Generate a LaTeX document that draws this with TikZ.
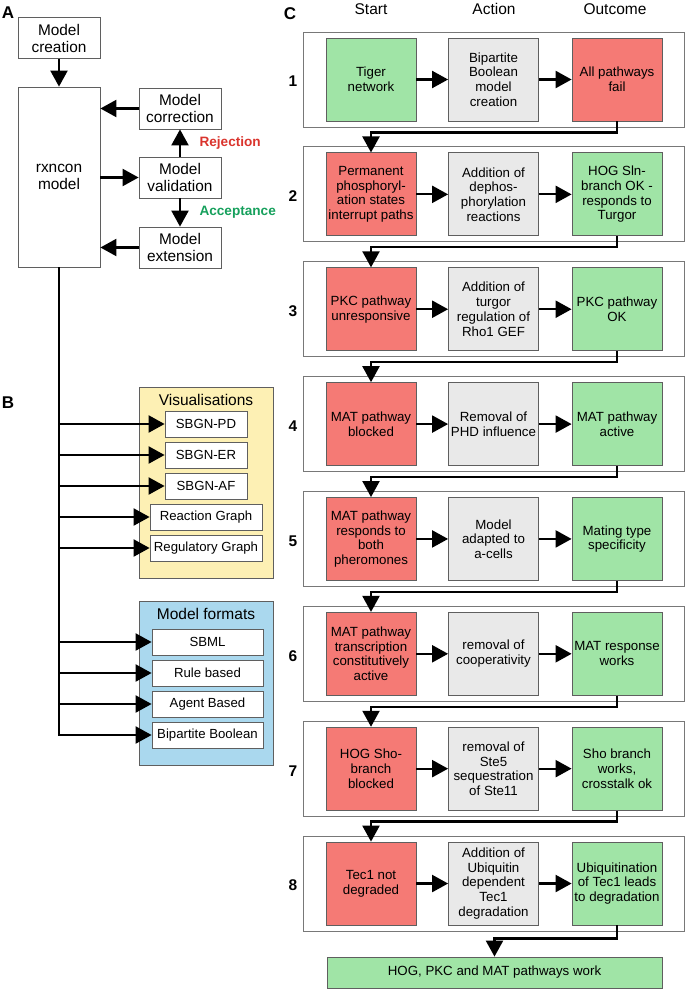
\documentclass[tikz,border=0pt]{standalone}
\usepackage{fontspec}
\setmainfont{Liberation Sans}
\usetikzlibrary{arrows.meta}
\definecolor{okgreen}{RGB}{160,228,166}
\definecolor{failred}{RGB}{245,122,117}
\definecolor{actgray}{RGB}{233,233,233}
\definecolor{visyellow}{RGB}{253,240,180}
\definecolor{fmtblue}{RGB}{170,216,238}
\definecolor{boxline}{RGB}{95,95,95}
\definecolor{rowline}{RGB}{120,120,120}
\definecolor{rejred}{RGB}{218,52,45}
\definecolor{accgreen}{RGB}{22,160,92}
\tikzstyle{box}=[draw=boxline,line width=0.8pt,inner sep=0pt,align=center]
\tikzstyle{abox}=[box,fill=white,minimum width=82pt,minimum height=41pt,font=\fontsize{15.4}{17}\selectfont]
\tikzstyle{fbox}=[box,fill=white,minimum height=26pt,font=\fontsize{13.2}{15}\selectfont]
\tikzstyle{group}=[draw=boxline,line width=0.8pt,inner sep=0pt,minimum width=134pt]
\tikzstyle{stepbox}=[box,minimum width=90pt,minimum height=83pt,font=\fontsize{13.3}{14.7}\selectfont]
\tikzstyle{rowbox}=[draw=rowline,line width=0.8pt,fill=white,minimum width=381pt,minimum height=95pt,inner sep=0pt]
\tikzstyle{flow}=[draw,line width=2.2pt,-{Triangle[length=16pt,width=17pt]}]
\tikzstyle{panel}=[font=\fontsize{17}{17}\selectfont\bfseries]
\tikzstyle{title}=[font=\fontsize{15.5}{17}\selectfont]
\tikzstyle{verdict}=[anchor=base west,font=\fontsize{13.6}{15}\selectfont\bfseries]

\begin{document}
\begin{tikzpicture}[x=1pt,y=-1pt]
  \useasboundingbox (0,0) rectangle (685,990);

  % Panel A: model cycle
  \node[panel] (labA) at (8,13) {A};
  \node[abox] (creation) at (59,38) {Model\\creation};
  \node[abox,minimum height=180pt] (rxn) at (59,177) {rxncon\\model};
  \node[abox] (corr) at (180,108.5) {Model\\correction};
  \node[abox] (valid) at (180,177.5) {Model\\validation};
  \node[abox] (ext) at (180,247.5) {Model\\extension};
  \path[flow] (creation) -- (rxn);
  \path[flow] (corr.west) -- (rxn.east |- corr.west);
  \path[flow] (rxn.east |- valid.west) -- (valid.west);
  \path[flow] (ext.west) -- (rxn.east |- ext.west);
  \path[flow] (valid) -- (corr);
  \path[flow] (valid) -- (ext);
  \node[verdict,text=rejred] (rej) at (196,146) {Rejection};
  \node[verdict,text=accgreen] (acc) at (196,215) {Acceptance};

  % Panel B: exports
  \node[panel] (labB) at (8,403) {B};
  \node[group,fill=visyellow,minimum height=191pt] (vis) at (206,482.5) {};
  \node[title] (vistitle) at (206,400) {Visualisations};
  \node[group,fill=fmtblue,minimum height=164pt] (fmt) at (206,683) {};
  \node[title] (fmttitle) at (206,614) {Model formats};
  \foreach \name/\ypos/\bw/\txt in {pd/424/82/SBGN-PD, er/455/82/SBGN-ER, af/486/82/SBGN-AF,
                                    rg/517/112/Reaction Graph, regg/548/112/Regulatory Graph}
    \node[fbox,minimum width=\bw pt] (\name) at (206,\ypos) {\txt};
  \foreach \name/\ypos/\txt in {sbml/642/SBML, rule/673/Rule based, agent/704/Agent Based,
                                bb/735/Bipartite Boolean}
    \node[fbox,minimum width=111pt] (\name) at (207.5,\ypos) {\txt};
  \path[flow] (rxn.south) |- (bb.west);
  \foreach \name in {pd,er,af,rg,regg,sbml,rule,agent}
    \path[flow] (rxn.south |- \name.west) -- (\name.west);

  % Panel C: refinement steps
  \node[panel] (labC) at (290,14) {C};
  \node[title,anchor=base] (hstart) at (371,15) {Start};
  \node[title,anchor=base] (haction) at (494,15) {Action};
  \node[title,anchor=base] (houtcome) at (615,15) {Outcome};
  \foreach \i/\sc/\st/\at/\oc/\ot in {
      1/okgreen/{Tiger\\network}/{Bipartite\\Boolean\\model\\creation}/failred/{All pathways\\fail},
      2/failred/{Permanent\\phosphoryl-\\ation states\\interrupt paths}/{Addition of\\dephos-\\phorylation\\reactions}/okgreen/{HOG Sln-\\branch OK -\\responds to\\Turgor},
      3/failred/{PKC pathway\\unresponsive}/{Addition of\\turgor\\regulation of\\Rho1 GEF}/okgreen/{PKC pathway\\OK},
      4/failred/{MAT pathway\\blocked}/{Removal of\\PHD influence}/okgreen/{MAT pathway\\active},
      5/failred/{MAT pathway\\responds to\\both\\pheromones}/{Model\\adapted to\\a-cells}/okgreen/{Mating type\\specificity},
      6/failred/{MAT pathway\\transcription\\constitutively\\active}/{removal of\\cooperativity}/okgreen/{MAT response\\works},
      7/failred/{HOG Sho-\\branch\\blocked}/{removal of\\Ste5\\sequestration\\of Ste11}/okgreen/{Sho branch\\works,\\crosstalk ok},
      8/failred/{Tec1 not\\degraded}/{Addition of\\Ubiquitin\\dependent\\Tec1\\degradation}/okgreen/{Ubiquitination\\of Tec1 leads\\to degradation}}
  {
    \pgfmathsetmacro\yy{79.5+(\i-1)*114.86}
    \node[rowbox] (row\i) at (493.5,\yy) {};
    \node[panel,font=\fontsize{15.5}{16}\selectfont\bfseries] (num\i) at (293,\yy+2) {\i};
    \node[stepbox,fill=\sc] (start\i) at (371,\yy) {\st};
    \node[stepbox,fill=actgray] (act\i) at (493.5,\yy) {\at};
    \node[stepbox,fill=\oc] (out\i) at (617,\yy) {\ot};
    \path[flow] (start\i) -- (act\i);
    \path[flow] (act\i) -- (out\i);
  }
  \foreach \i [evaluate=\i as \j using int(\i+1)] in {1,...,7}
    \path[flow] (out\i.south) -- ++(0,11) -| (start\j.north);

  \node[stepbox,fill=okgreen,minimum width=335pt,minimum height=31pt] (final) at (494.5,972.5) {HOG, PKC and MAT pathways work};
  \path[flow] (out8.south) -- ++(0,13) -| (final.north);
\end{tikzpicture}
\end{document}
